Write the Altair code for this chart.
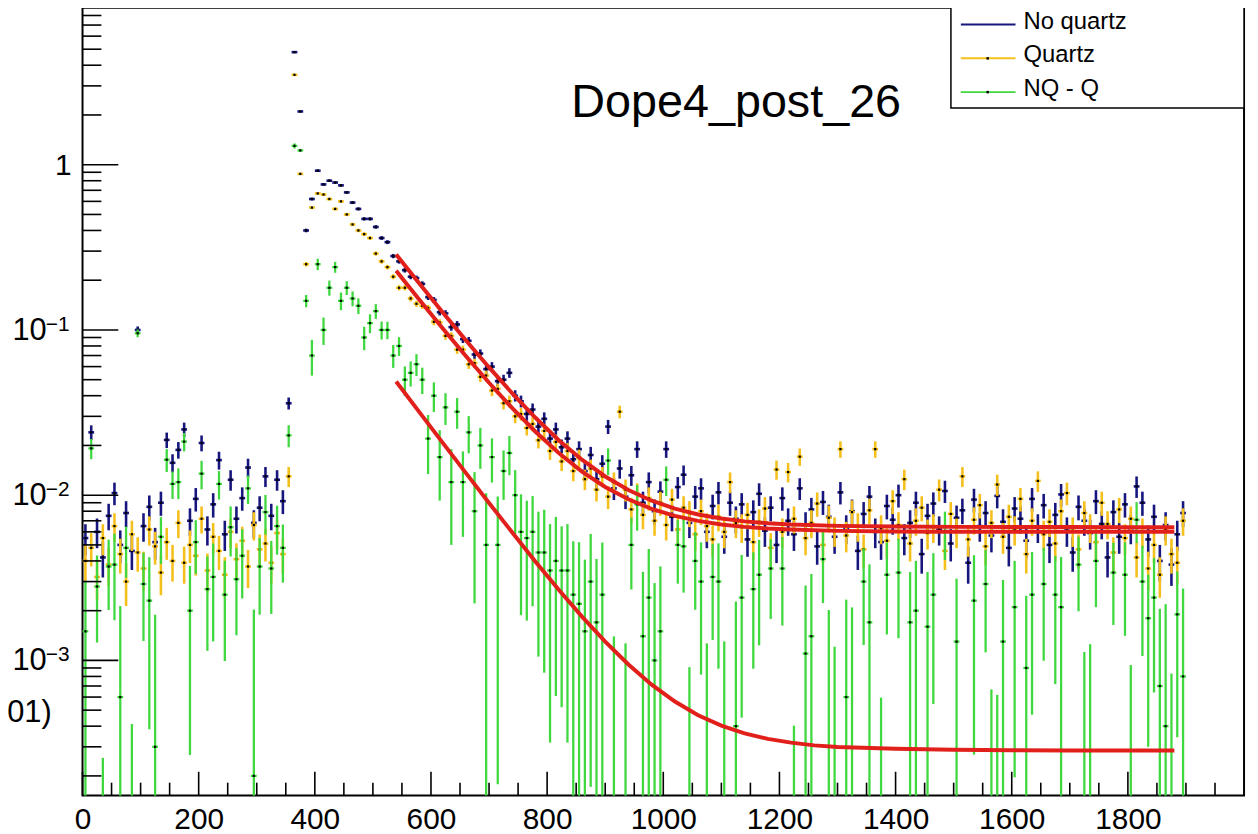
import altair as alt
import numpy as np
import pandas as pd

# ---------------- data ----------------
BIN_WIDTH = 10  # histogram bins of 10 units, centres 5, 15, ..., 1895

# "No quartz" bin contents, in units of 1e-3
NO_QUARTZ = [
    5.5, 24, 6.0, 4.2, 7.5, 10.3, 5.0, 7.8, 4.6, 100, 6.5, 8.5, 5.2, 9.0, 21.6, 15.7, 18.8, 25, 7.0, 9.5,
    20.7, 6.2, 8.8, 16.3, 5.8, 12.4, 7.2, 9.6, 14.7, 6.8, 8.4, 13.0, 7.5, 12.4, 9.2,
    36, 4800, 2100, 400, 620, 920, 760, 800, 780, 750, 680, 590, 540, 470, 470, 420, 360, 340, 280, 260,
    230, 210, 206,
    190, 158, 152, 128, 126, 104, 108, 88, 86, 71, 72, 58, 60, 49, 50, 55, 40, 37, 31, 33,
    26, 29, 22, 25, 19.5, 22, 16.5, 19, 14, 17.5, 12.5, 15.5, 26, 11, 14.5, 9.8, 13.2, 19, 9.0, 12.0,
    8.0, 10.5, 19, 7.4, 11.2, 13.3, 6.8, 9.8, 11.0, 6.0, 8.6, 10.4, 5.6, 9.0, 7.2,
    8.8, 5.4, 7.9, 10.2, 6.1, 8.4, 5.0, 9.6, 7.0, 5.8, 11.0, 6.6, 8.2, 4.9, 9.1, 7.4, 5.6, 10.4, 6.3, 8.0,
    4.6, 7.7, 9.8, 6.0, 5.2, 8.6, 7.1, 10.0, 5.5, 6.8, 9.0, 4.4, 7.5, 8.9, 6.2, 10.6, 5.1, 7.3, 8.1, 3.9,
    9.4, 6.5, 7.8, 5.7, 9.9, 6.9, 4.8, 8.3, 7.2, 5.3, 9.5, 6.4, 8.7, 5.0, 7.6, 10.1, 6.1, 4.5, 8.5, 7.0,
    5.9, 9.2, 6.7, 4.2, 7.9, 5.6, 8.8, 6.3, 11.3, 9.0, 5.4, 7.4, 4.0, 6.6, 3.8, 5.8, 7.8,
]

# "Quartz" bin contents, in units of 1e-3
QUARTZ = [
    4.0, 4.8, 3.2, 5.5, 3.8, 6.5, 4.4, 3.0, 5.8, 4.5, 3.6, 6.2, 4.9, 3.4, 5.2, 4.0, 6.8, 3.9, 5.0, 4.3,
    7.2, 3.5, 5.6, 4.6, 3.3, 6.0, 4.1, 5.3, 3.7, 6.6, 4.7, 5.1, 3.9, 5.9, 4.4,
    13, 3500, 880, 250, 550, 670, 660, 620, 540, 600, 500, 435, 400, 380, 360, 290, 260, 240, 210, 180,
    180, 155, 144,
    140, 136, 112, 111, 92, 92, 76, 76, 62, 63, 52, 53, 43, 44, 36, 37, 30, 31, 25.5, 27,
    21.5, 24.5, 18.5, 21, 16, 18.5, 14, 16.8, 12.5, 14.5, 10.8, 13, 9.8, 12, 32, 10.8, 8.2, 10.2, 7.6, 9.6,
    7.0, 9.0, 6.6, 9.4, 6.2, 8.4, 7.8, 5.8, 8.0, 6.5, 5.4, 7.4, 6.0, 12, 6.8,
    6.4, 7.6, 5.2, 6.9, 8.3, 4.8, 14.3, 6.0, 13.8, 7.2, 17.1, 5.5, 6.8, 8.9, 5.0, 7.3, 6.1, 19.0, 5.7, 7.9,
    6.5, 4.7, 8.1, 19.0, 6.3, 5.3, 9.2, 6.6, 12.5, 5.1, 7.0, 8.4, 5.9, 6.4, 10.8, 4.6, 7.7, 6.0, 13.0, 5.4,
    7.1, 8.7, 4.9, 6.8, 11.6, 5.6, 7.4, 6.2, 9.5, 4.4, 7.0, 12.2, 5.8, 6.9, 5.1, 8.0, 10.3, 6.1, 4.7, 7.8,
    6.4, 5.2, 9.0, 6.7, 4.5, 8.2, 5.5, 7.2, 4.2, 6.0, 3.6, 5.0, 3.3, 6.2, 4.4, 3.9, 7.0,
]

ERR_SCALE = 0.25  # variance per unit of content (1e-3 units), Poisson-like

# fitted curves (red)
FIT_X = [540, 580, 620, 660, 700, 740, 780, 820, 860, 900, 940, 980, 1020, 1060, 1100, 1140, 1180,
         1220, 1300, 1400, 1500, 1600, 1700, 1800, 1880]
FIT_NQ = [0.2864, 0.191, 0.1281, 0.0866, 0.0593, 0.0413, 0.0294, 0.0215, 0.0164, 0.01298, 0.01074,
          0.00926, 0.00829, 0.00764, 0.00722, 0.00694, 0.00676, 0.00664, 0.00652, 0.00646, 0.00643,
          0.00642, 0.00641, 0.0064, 0.0064]
FIT_Q = [0.228, 0.1523, 0.1025, 0.0696, 0.0479, 0.0336, 0.0242, 0.0180, 0.0139, 0.01122, 0.00944,
         0.00826, 0.00750, 0.00699, 0.00665, 0.00643, 0.00628, 0.00619, 0.00608, 0.00603, 0.00601,
         0.00600, 0.00600, 0.00600, 0.00600]
FIT_D_X = [540, 580, 620, 660, 700, 740, 780, 820, 860, 900, 940, 980, 1020, 1060, 1100, 1140, 1180,
           1220, 1260, 1300, 1400, 1500, 1600, 1700, 1800, 1880]
FIT_D = [0.04879, 0.03183, 0.02081, 0.01364, 0.00897, 0.00594, 0.00396, 0.00268, 0.00184, 0.00130,
         0.000945, 0.000713, 0.000564, 0.000466, 0.000403, 0.000362, 0.000335, 0.000318, 0.000306,
         0.000299, 0.000292, 0.000288, 0.000286, 0.000285, 0.000285, 0.000285]

SERIES = ["No quartz", "Quartz", "NQ - Q"]
COLORS = ["#17167e", "#f6c01c", "#3fd83f"]
BAR_WIDTHS = [2.6, 2.6, 2.3]
RED = "#e1201c"

X_LABELS = [0, 200, 400, 600, 800, 1000, 1200, 1400, 1600, 1800]
X_MINOR = [v for v in range(50, 2000, 50) if v % 200 != 0]
Y_DECADES = [1e-3, 1e-2, 1e-1]
Y_EXPONENTS = ["\u22123", "\u22122", "\u22121"]
Y_ONE = [1.0]
Y_MINOR = [m * 10.0 ** e for e in range(-4, 1) for m in range(2, 10)]

TITLE = "Dope4_post_26"

# ---------------- derived tables ----------------
W, H = 1169, 793
YMIN, YMAX = 1.52e-4, 8.92
FLOOR = 1e-6
FONT = "Liberation Sans"

xc = np.array([BIN_WIDTH * i + BIN_WIDTH / 2 for i in range(len(NO_QUARTZ))])
nq_raw = np.array(NO_QUARTZ, dtype=float)
q_raw = np.array(QUARTZ, dtype=float)
nq = nq_raw * 1e-3
qz = q_raw * 1e-3
e_nq = np.sqrt(ERR_SCALE * nq_raw) * 1e-3
e_qz = np.sqrt(ERR_SCALE * q_raw) * 1e-3
diff = nq - qz
e_diff = np.sqrt(e_nq ** 2 + e_qz ** 2)


def table(name, v, e):
    df = pd.DataFrame({"x": xc, "v": v, "e": e})
    df["series"] = name
    df["lo"] = np.maximum(df["v"] - df["e"], FLOOR)
    df["hi"] = df["v"] + df["e"]
    df["xl"] = df["x"] - BIN_WIDTH / 2
    df["xr"] = df["x"] + BIN_WIDTH / 2
    return df


tables = [table(SERIES[0], nq, e_nq), table(SERIES[1], qz, e_qz), table(SERIES[2], diff, e_diff)]

xs = alt.Scale(domain=[0, 2000], nice=False, zero=False)
ys = alt.Scale(type="log", domain=[YMIN, YMAX], nice=False, clamp=True)

layers = []

# axis carrier (invisible points); the only layer that defines the axes
lab_df = pd.DataFrame({"x": [0.0, 1000.0], "y": [1e-3, 1.0]})
layers.append(
    alt.Chart(lab_df).mark_point(opacity=0).encode(
        x=alt.X("x:Q", scale=xs, axis=alt.Axis(
            values=X_LABELS, ticks=False, domain=False, grid=False, title=None,
            labelFont=FONT, labelFontSize=30, labelPadding=9, labelColor="black",
            labelFlush=False, labelOverlap=False, format="d")),
        y=alt.Y("y:Q", scale=ys, axis=alt.Axis(
            labels=False, ticks=False, domain=False, grid=False, title=None)),
    )
)

# data: error bars + markers
for df, col, bw in zip(tables, COLORS, BAR_WIDTHS):
    dv = df[df["hi"] > YMIN]
    dp = df[df["v"] > YMIN]
    layers.append(
        alt.Chart(dv).mark_rule(color=col, strokeWidth=bw).encode(
            x=alt.X("x:Q", scale=xs),
            y=alt.Y("lo:Q", scale=ys),
            y2="hi:Q",
        )
    )
    layers.append(
        alt.Chart(dp).mark_rule(color=col, strokeWidth=bw).encode(
            x=alt.X("xl:Q", scale=xs),
            x2="xr:Q",
            y=alt.Y("v:Q", scale=ys),
        )
    )
    layers.append(
        alt.Chart(dp).mark_square(color="black", size=5, opacity=1).encode(
            x=alt.X("x:Q", scale=xs),
            y=alt.Y("v:Q", scale=ys),
        )
    )

# fits
fits = [
    pd.DataFrame({"x": FIT_X, "y": FIT_NQ}),
    pd.DataFrame({"x": FIT_X, "y": FIT_Q}),
    pd.DataFrame({"x": FIT_D_X, "y": FIT_D}),
]
for fdf in fits:
    layers.append(
        alt.Chart(fdf).mark_line(color=RED, strokeWidth=4).encode(
            x=alt.X("x:Q", scale=xs),
            y=alt.Y("y:Q", scale=ys),
        )
    )

# inside ticks (ROOT style)
ymaj = pd.DataFrame({"v": Y_DECADES + Y_ONE})
ymin_df = pd.DataFrame({"v": [v for v in Y_MINOR if YMIN < v < YMAX]})
xmaj = pd.DataFrame({"t": X_LABELS})
xmin_df = pd.DataFrame({"t": X_MINOR})
layers.append(alt.Chart(ymaj).mark_rule(color="black", strokeWidth=1.6).encode(
    y=alt.Y("v:Q", scale=ys), x=alt.value(0), x2=alt.value(36)))
layers.append(alt.Chart(ymin_df).mark_rule(color="black", strokeWidth=1.6).encode(
    y=alt.Y("v:Q", scale=ys), x=alt.value(0), x2=alt.value(19)))
layers.append(alt.Chart(xmaj).mark_rule(color="black", strokeWidth=1.6).encode(
    x=alt.X("t:Q", scale=xs), y=alt.value(H), y2=alt.value(H - 24)))
layers.append(alt.Chart(xmin_df).mark_rule(color="black", strokeWidth=1.6).encode(
    x=alt.X("t:Q", scale=xs), y=alt.value(H), y2=alt.value(H - 13)))

# y tick labels, ROOT style 10^{-n}
dec_df = pd.DataFrame({"v": Y_DECADES, "base": ["10"] * len(Y_DECADES), "exp": Y_EXPONENTS})
layers.append(alt.Chart(dec_df).mark_text(
    font=FONT, fontSize=31, align="right", baseline="middle", color="black", dy=1
).encode(y=alt.Y("v:Q", scale=ys), x=alt.value(-36), text="base:N"))
layers.append(alt.Chart(dec_df).mark_text(
    font=FONT, fontSize=21, align="right", baseline="alphabetic", color="black", dy=1
).encode(y=alt.Y("v:Q", scale=ys), x=alt.value(-13), text="exp:N"))
layers.append(alt.Chart(pd.DataFrame({"v": Y_ONE, "t": ["1"]})).mark_text(
    font=FONT, fontSize=30, align="right", baseline="middle", color="black", dy=1
).encode(y=alt.Y("v:Q", scale=ys), x=alt.value(-11), text="t:N"))

# title text
layers.append(
    alt.Chart(pd.DataFrame({"t": [TITLE]})).mark_text(
        font=FONT, fontSize=47, align="left", baseline="alphabetic", color="black"
    ).encode(text="t:N", x=alt.value(492), y=alt.value(110))
)
# cut-off y title remnant
layers.append(
    alt.Chart(pd.DataFrame({"t": ["01)"]})).mark_text(
        font=FONT, fontSize=31, align="right", baseline="middle", color="black"
    ).encode(text="t:N", x=alt.value(-31), y=alt.value(710))
)

# legend (ROOT TLegend look)
LEG_X0, LEG_X1, LEG_Y0, LEG_Y1 = 874, 1169, -2, 101
ROWS = [14, 48, 82]
layers.append(
    alt.Chart(pd.DataFrame({"a": [0]})).mark_rect(fill="white", stroke="black", strokeWidth=1.5).encode(
        x=alt.value(LEG_X0), x2=alt.value(LEG_X1), y=alt.value(LEG_Y0), y2=alt.value(LEG_Y1))
)
for name, col, ry in zip(SERIES, COLORS, ROWS):
    layers.append(
        alt.Chart(pd.DataFrame({"a": [0]})).mark_rule(color=col, strokeWidth=2).encode(
            x=alt.value(884), x2=alt.value(939), y=alt.value(ry + 3))
    )
    if name != SERIES[0]:
        layers.append(
            alt.Chart(pd.DataFrame({"a": [0]})).mark_square(color="black", size=6, opacity=1).encode(
                x=alt.value(911), y=alt.value(ry + 3))
        )
    layers.append(
        alt.Chart(pd.DataFrame({"t": [name]})).mark_text(
            font=FONT, fontSize=24, align="left", baseline="middle", color="black"
        ).encode(text="t:N", x=alt.value(947), y=alt.value(ry))
    )

chart = (
    alt.layer(*layers)
    .resolve_scale(x="shared", y="shared")
    .properties(
        width=W,
        height=H,
        padding={"left": 75, "top": -3, "right": 6, "bottom": 40},
        autosize=alt.AutoSizeParams(type="none"),
        background="white",
    )
    .configure_view(stroke="black", strokeWidth=2)
)

chart.save("out.html", embed_options={"renderer": "svg", "actions": False})
